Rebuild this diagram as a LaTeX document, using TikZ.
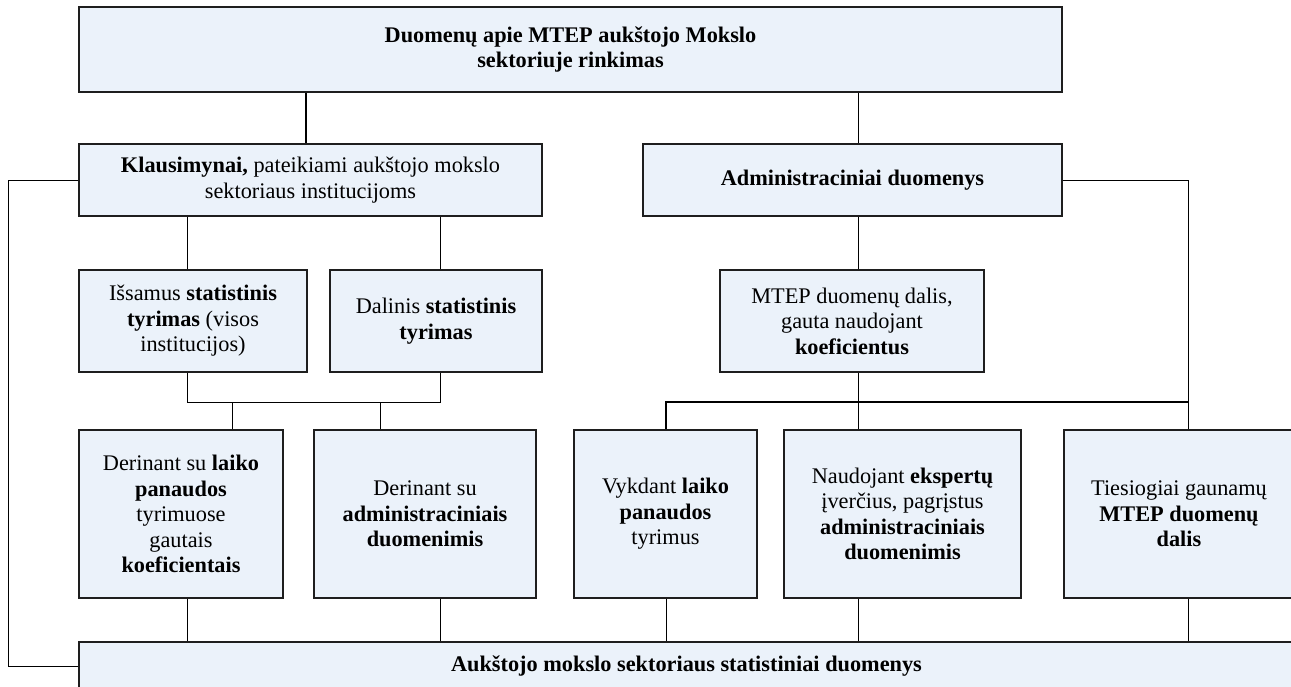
\documentclass[tikz,border=0pt]{standalone}
\usepackage{fontspec}
\setmainfont{Liberation Serif}
\usepackage{tikz}

\definecolor{boxfill}{RGB}{235,242,250}
\definecolor{boxline}{RGB}{30,30,30}

\begin{document}
\begin{tikzpicture}[x=1pt,y=-1pt,
		box/.style={rectangle,draw=boxline,line width=1.6pt,fill=boxfill,inner sep=0pt,align=center,font=\fontsize{22.3}{25.5}\selectfont},
		link/.style={line width=1pt},
		trunk/.style={line width=1.5pt}]
		\clip (0,0) rectangle (1291,686);
%		\draw[help lines,step=50] (0,0) grid (1291,686);
		\path (570.5,49.5) coordinate (top_c);
		\path (310.5,180) coordinate (klaus_c);
		\path (852.5,180) coordinate (admin_c);

		\path (193,321) coordinate (issamus_c);
		\path (436,321) coordinate (dalinis_c);
		\path (852,321) coordinate (mtep_c);

		\path (181,514) coordinate (derlaik_c);
		\path (425,514) coordinate (deradm_c);
		\path (665.5,514) coordinate (vykdant_c);
		\path (902.5,514) coordinate (naudoj_c);
		\path (1179,514) coordinate (tiesiog_c);

		\path (686.5,666) coordinate (bottom_c);

		\path (306,0) coordinate (top_klaus);
		\path (8,0) coordinate (fb_x);
		\path (187,402) coordinate (lbus_l);
		\path (440,402) coordinate (lbus_r);
		\path (232,402) coordinate (lbus_a);
		\path (380,402) coordinate (lbus_b);
		\path (666,402) coordinate (rbus_l);
		\path (858,402) coordinate (rbus_m);
		\path (1188,402) coordinate (rbus_r);

		\path (top_c) node(top_box) [box,minimum width=983,minimum height=85] {\textbf{Duomenų apie MTEP aukštojo Mokslo}\\\textbf{sektoriuje rinkimas}};
		\path (klaus_c) node(klaus_box) [box,minimum width=463,minimum height=72] {\textbf{Klausimynai,} pateikiami aukštojo mokslo\\sektoriaus institucijoms};
		\path (admin_c) node(admin_box) [box,minimum width=419,minimum height=72] {\textbf{Administraciniai duomenys}};

		\path (issamus_c) node(issamus_box) [box,minimum width=228,minimum height=102] {Išsamus \textbf{statistinis}\\\textbf{tyrimas} (visos\\institucijos)};
		\path (dalinis_c) node(dalinis_box) [box,minimum width=212,minimum height=102] {Dalinis \textbf{statistinis}\\\textbf{tyrimas}};
		\path (mtep_c) node(mtep_box) [box,minimum width=264,minimum height=102] {MTEP duomenų dalis,\\gauta naudojant\\\textbf{koeficientus}};

		\path (derlaik_c) node(derlaik_box) [box,minimum width=204,minimum height=168] {Derinant su \textbf{laiko}\\\textbf{panaudos}\\tyrimuose\\gautais\\\textbf{koeficientais}};
		\path (deradm_c) node(deradm_box) [box,minimum width=222,minimum height=168] {Derinant su\\\textbf{administraciniais}\\\textbf{duomenimis}};
		\path (vykdant_c) node(vykdant_box) [box,minimum width=183,minimum height=168] {Vykdant \textbf{laiko}\\\textbf{panaudos}\\tyrimus};
		\path (naudoj_c) node(naudoj_box) [box,minimum width=237,minimum height=168] {Naudojant \textbf{ekspertų}\\įverčius, pagrįstus\\\textbf{administraciniais}\\\textbf{duomenimis}};
		\path (tiesiog_c) node(tiesiog_box) [box,minimum width=230,minimum height=168] {Tiesiogiai gaunamų\\\textbf{MTEP duomenų}\\\textbf{dalis}};

		\path (bottom_c) node(bottom_box) [box,minimum width=1215,minimum height=48] {\textbf{Aukštojo mokslo sektoriaus statistiniai duomenys}};

		% left branch
		\draw[trunk] (top_box.south -| top_klaus) -- (klaus_box.north -| top_klaus);
		\draw[link] (klaus_box.south -| lbus_l) -- (issamus_box.north -| lbus_l);
		\draw[link] (klaus_box.south -| lbus_r) -- (dalinis_box.north -| lbus_r);
		\draw[link] (issamus_box.south -| lbus_l) -- (lbus_l) -- (lbus_r) -- (dalinis_box.south -| lbus_r);
		\draw[link] (lbus_a) -- (derlaik_box.north -| lbus_a);
		\draw[link] (lbus_b) -- (deradm_box.north -| lbus_b);
		\draw[link] (derlaik_box.south -| lbus_l) -- (bottom_box.north -| lbus_l);
		\draw[link] (deradm_box.south -| lbus_r) -- (bottom_box.north -| lbus_r);
		\draw[link] (klaus_box.west) -- (fb_x |- klaus_box.west) -- (fb_x |- bottom_box.west) -- (bottom_box.west);

		% right branch
		\draw[link] (top_box.south -| rbus_m) -- (admin_box.north -| rbus_m);
		\draw[link] (admin_box.south -| rbus_m) -- (mtep_box.north -| rbus_m);
		\draw[link] (mtep_box.south -| rbus_m) -- (naudoj_box.north -| rbus_m);
		\draw[link] (admin_box.east) -- (rbus_r |- admin_box.east) -- (tiesiog_box.north -| rbus_r);
		\draw[trunk] (vykdant_box.north -| rbus_l) -- (rbus_l) -- (rbus_r);
		\draw[link] (vykdant_box.south -| rbus_l) -- (bottom_box.north -| rbus_l);
		\draw[link] (naudoj_box.south -| rbus_m) -- (bottom_box.north -| rbus_m);
		\draw[link] (tiesiog_box.south -| rbus_r) -- (bottom_box.north -| rbus_r);
\end{tikzpicture}
\end{document}
